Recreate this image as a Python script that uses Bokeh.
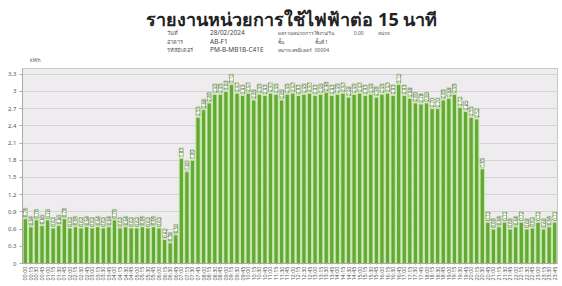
import math
from bokeh.plotting import figure
from bokeh.models import ColumnDataSource, FactorRange, Range1d, LabelSet, FixedTicker
from bokeh.layouts import column
from bokeh.embed import file_html
from bokeh.resources import INLINE
from bokeh.core.properties import value

FONT = "Noto Sans"

title = "รายงานหน่วยการใช้ไฟฟ้าต่อ 15 นาที"
info_labels_1 = ["วันที่", "อาคาร", "รหัสมิเตอร์"]
info_values_1 = ["28/02/2024", "AB-F1", "PM-B-MB1B-C41E"]
info_labels_2 = ["ผลรวมหน่วยการใช้งาน/วัน", "ชั้น", "หมายเลขมิเตอร์"]
info_values_2 = ["", "ชั้นที่ 1", "00004"]
unit_text = ["0.00", "หน่วย"]

times = [f"{(i * 15) // 60:02d}:{(i * 15) % 60:02d}" for i in range(96)]
kwh = [
    0.78, 0.64, 0.76, 0.66, 0.76, 0.62, 0.66, 0.78, 0.62, 0.64, 0.62, 0.64,
    0.62, 0.64, 0.62, 0.64, 0.76, 0.62, 0.64, 0.62, 0.62, 0.64, 0.62, 0.64,
    0.62, 0.42, 0.36, 0.50, 1.83, 1.60, 1.80, 2.55, 2.68, 2.80, 2.95, 2.95,
    3.00, 3.12, 2.97, 2.93, 2.97, 2.85, 2.95, 2.93, 2.97, 2.95, 2.85, 2.95,
    2.97, 2.93, 2.95, 2.97, 2.93, 2.95, 2.98, 2.93, 2.95, 2.97, 2.90, 2.95,
    2.97, 2.93, 2.95, 2.90, 2.95, 2.97, 2.93, 3.12, 2.93, 2.88, 2.80, 2.78,
    2.80, 2.70, 2.70, 2.85, 2.88, 2.95, 2.72, 2.65, 2.55, 2.52, 1.65, 0.72,
    0.60, 0.64, 0.72, 0.60, 0.64, 0.72, 0.60, 0.62, 0.72, 0.60, 0.64, 0.72,
]
y_ticks = [0, 0.3, 0.6, 0.9, 1.2, 1.5, 1.8, 2.1, 2.4, 2.7, 3, 3.3]
y_tick_labels = ["0", "0.3", "0.6", "0.9", "1.2", "1.5", "1.8", "2.1", "2.4", "2.7", "3", "3.3"]

W = 562
HH = 62

# ---------- header ----------
h = figure(width=W, height=HH, x_range=Range1d(0, W), y_range=Range1d(0, HH),
           x_axis_type=None, y_axis_type=None, output_backend="svg",
           toolbar_location=None, min_border=0)
h.grid.visible = False
h.outline_line_color = None
h.text(x=[283], y=[44], text=[title], text_font=value(FONT), text_font_size="18px",
       text_font_style="bold", text_align="center", text_baseline="middle",
       text_color="#222222")
rows_y = [30, 21, 13]
h.text(x=[152] * 3, y=rows_y, text=info_labels_1, text_font=value(FONT),
       text_font_size="5.5px", text_baseline="middle", text_color="#555555")
h.text(x=[197] * 3, y=rows_y, text=info_values_1, text_font=value(FONT),
       text_font_size="6.5px", text_baseline="middle", text_color="#444444")
h.text(x=[268] * 3, y=rows_y, text=info_labels_2, text_font=value(FONT),
       text_font_size="5px", text_baseline="middle", text_color="#555555")
h.text(x=[307] * 3, y=rows_y, text=info_values_2, text_font=value(FONT),
       text_font_size="5px", text_baseline="middle", text_color="#555555")
h.text(x=[348, 373], y=[30, 30], text=unit_text, text_font=value(FONT),
       text_font_size="5px", text_baseline="middle", text_color="#555555")
h.text(x=[8], y=[3], text=["kWh"], text_font=value(FONT), text_font_size="5px",
       text_baseline="middle", text_color="#555555")

# ---------- chart ----------
src = ColumnDataSource(dict(t=times, v=kwh, lbl=[f"{v:.2f}" for v in kwh]))

p = figure(width=W, height=286 - HH, x_range=FactorRange(*times, range_padding=0),
           y_range=Range1d(0, 3.4), output_backend="svg", toolbar_location=None,
           min_border_left=22, min_border_right=5, min_border_top=6,
           min_border_bottom=23)
p.background_fill_color = "#eeecee"
p.border_fill_color = "white"
p.outline_line_color = "#c8c8c8"
p.xgrid.visible = False
p.ygrid.grid_line_color = "#d6d4d6"
p.ygrid.ticker = FixedTicker(ticks=y_ticks)

p.vbar(x="t", top="v", width=0.78, source=src, fill_color="#62a936",
       line_color="#c8e8a8", line_width=1)

labels = LabelSet(x="t", y="v", text="lbl", source=src, angle=math.pi / 2,
                  text_font_size="4.5px", text_align="left", text_baseline="middle",
                  y_offset=1.5, text_color="#555555", text_font=value(FONT),
                  background_fill_color="#fbfdf7", border_line_color="#a8d08d")
p.add_layout(labels)

p.yaxis.ticker = FixedTicker(ticks=y_ticks)
p.yaxis.major_label_overrides = {t: s for t, s in zip(y_ticks, y_tick_labels)}
p.yaxis.major_label_text_font_size = "6px"
p.yaxis.major_label_text_color = "#555555"
p.yaxis.major_label_text_font = FONT
p.yaxis.major_label_standoff = 3
p.yaxis.major_tick_out = 3
p.yaxis.major_tick_in = 0
p.yaxis.minor_tick_line_color = None
p.yaxis.axis_line_color = "#aaaaaa"
p.yaxis.major_tick_line_color = "#aaaaaa"

p.xaxis.major_label_orientation = math.pi / 2
p.xaxis.major_label_text_font_size = "5.5px"
p.xaxis.major_label_text_color = "#555555"
p.xaxis.major_label_text_font = FONT
p.xaxis.major_label_standoff = 2
p.xaxis.major_tick_out = 1
p.xaxis.major_tick_in = 0
p.xaxis.axis_line_color = "#aaaaaa"
p.xaxis.major_tick_line_color = "#aaaaaa"

layout = column(h, p, spacing=0)
open("out.html", "w").write(file_html(layout, INLINE))
